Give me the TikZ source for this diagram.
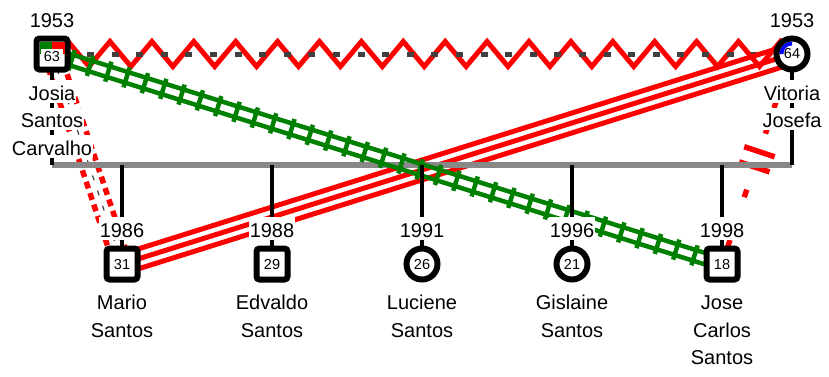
\documentclass[tikz,border=0pt]{standalone}
\usepackage{fontspec}
\setmainfont{Liberation Sans}
\usetikzlibrary{calc,decorations.markings,decorations.pathmorphing}
\pgfdeclarelayer{bg}
\pgfsetlayers{bg,main}
\definecolor{gred}{RGB}{255,0,0}
\definecolor{ggreen}{RGB}{0,128,0}
\definecolor{gblue}{RGB}{0,0,255}
\definecolor{sibgray}{RGB}{136,136,136}
\definecolor{mgray}{RGB}{64,64,64}
\newcommand\lblfnt{\fontsize{20}{24}\selectfont}
\newcommand\agefnt{\fontsize{14.5}{16}\selectfont}
\begin{document}
\begin{tikzpicture}[x=1pt,y=-1pt,
  male/.style={draw=black,line width=6pt,fill=white,rounded corners=3pt,minimum size=31pt,inner sep=0pt,font=\agefnt},
  female/.style={circle,draw=black,line width=6pt,fill=white,minimum size=31pt,inner sep=0pt,font=\agefnt},
  lbl/.style={fill=white,inner sep=1pt,text height=19pt,text depth=1.5pt,anchor=base,font=\lblfnt},
  agebox/.style={fill=white,inner sep=0pt,font=\agefnt},
  kin/.style={black,line width=4.5pt},
  sib/.style={sibgray,line width=6pt},
  rel3/.style={gred,line width=5pt},
  dd/.style={gred,line width=5.5pt,dash pattern=on 7pt off 5pt},
  rd/.style={gred,line width=5.5pt},
  rail/.style={ggreen,line width=4.5pt}
]
\useasboundingbox (0,0) rectangle (829,376);

% parents
\node[male] (P1) at (52,54) {};
\fill[ggreen] (39.5,41.5) rectangle (52,54);
\fill[gred] (52,41.5) rectangle (64.5,54);
\node[agebox,minimum width=22pt,minimum height=17pt] (A1) at (52,57) {63};

\node[female] (P2) at (792,54) {};
\fill[gblue] (P2.center) -- ++(-12.5,0) arc[start angle=180,end angle=270,radius=12.5] -- cycle;
\fill[white] (P2.center) circle[radius=8.5];
\node[font=\agefnt,inner sep=0pt] (A2) at (P2.center) {64};

% children
\node[male] (C1) at (122,264) {31};
\node[male] (C2) at (272,264) {29};
\node[female] (C3) at (422,264) {26};
\node[female] (C4) at (572,264) {21};
\node[male] (C5) at (722,264) {18};

% labels
\node[lbl] (yP1) at (52,27.5) {1953};
\node[lbl] (yP2) at (792,27.5) {1953};
\node[lbl] (nP1a) at (52,100) {Josia};
\node[lbl] (nP1b) at (52,127.5) {Santos};
\node[lbl] (nP1c) at (52,155) {Carvalho};
\node[lbl] (nP2a) at (792,100) {Vitoria};
\node[lbl] (nP2b) at (792,127.5) {Josefa};

\node[lbl] (yC1) at (122,237) {1986};
\node[lbl] (yC2) at (272,237) {1988};
\node[lbl] (yC3) at (422,237) {1991};
\node[lbl] (yC4) at (572,237) {1996};
\node[lbl] (yC5) at (722,237) {1998};

\node[lbl] (nC1a) at (122,309.5) {Mario};
\node[lbl] (nC1b) at (122,337) {Santos};
\node[lbl] (nC2a) at (272,309.5) {Edvaldo};
\node[lbl] (nC2b) at (272,337) {Santos};
\node[lbl] (nC3a) at (422,309.5) {Luciene};
\node[lbl] (nC3b) at (422,337) {Santos};
\node[lbl] (nC4a) at (572,309.5) {Gislaine};
\node[lbl] (nC4b) at (572,337) {Santos};
\node[lbl] (nC5a) at (722,309.5) {Jose};
\node[lbl] (nC5b) at (722,337) {Carlos};
\node[lbl] (nC5c) at (722,364.5) {Santos};

\coordinate (sL) at (52,165);
\coordinate (sR) at (792,165);

\begin{pgfonlayer}{bg}
% conflict zigzag between parents
\draw[gred,line width=5pt,decorate,decoration={zigzag,segment length=41.9pt,amplitude=12.5pt}]
  ($(P1.center)+(5.6,0)$) -- (P2.center);
% marriage line
\draw[mgray,line width=5pt,dash pattern=on 7pt off 17.6pt,dash phase=14.2pt] (P1.center) -- (P2.center);
% triple red Mario - Vitoria
\draw[rel3] (C1.center) -- (P2.center);
\draw[rel3] ($(C1.center)!9.5pt!90:(P2.center)$) -- ($(P2.center)!9.5pt!-90:(C1.center)$);
\draw[rel3] ($(C1.center)!9.5pt!-90:(P2.center)$) -- ($(P2.center)!9.5pt!90:(C1.center)$);
% double dotted Josia - Mario
\draw[dd] ($(P1.center)!8pt!90:(C1.center)$) -- ($(C1.center)!8pt!-90:(P1.center)$);
\draw[dd] ($(P1.center)!8pt!-90:(C1.center)$) -- ($(C1.center)!8pt!90:(P1.center)$);
\draw[mgray,line width=1.2pt,dash pattern=on 5pt off 11pt] (P1.center) -- (C1.center);
% cutoff Vitoria - Jose
\path[decorate,decoration={markings,
  mark=at position 53pt with {\draw[rd] (-4pt,0) -- (4pt,0);},
  mark=at position 80pt with {\draw[rd] (-4pt,0) -- (4pt,0);},
  mark=at position 103pt with {\draw[rd] (0,-16pt) -- (0,16pt);},
  mark=at position 119pt with {\draw[rd] (0,-16pt) -- (0,16pt);},
  mark=at position 147pt with {\draw[rd] (-4pt,0) -- (4pt,0);},
  mark=at position 200pt with {\draw[rd] (-4pt,0) -- (4pt,0);}}]
  (P2.center) -- (C5.center);
% sibling line
\draw[sib] (sL) -- (sR);
% green railroad Josia - Jose
\draw[rail] ($(P1.center)!5.5pt!90:(C5.center)$) -- ($(C5.center)!5.5pt!-90:(P1.center)$);
\draw[rail] ($(P1.center)!5.5pt!-90:(C5.center)$) -- ($(C5.center)!5.5pt!90:(P1.center)$);
\path[decorate,decoration={markings,
  mark=between positions 20.6pt and 690pt step 19.2pt with {\draw[ggreen,line width=4.5pt] (0,-10.5pt) -- (0,10.5pt);}}]
  (P1.center) -- (C5.center);
% kinship lines
\draw[kin] (P1.center) -- (sL);
\draw[kin] (P2.center) -- (sR);
\foreach \c in {C1,C2,C3,C4,C5} \draw[kin] (\c.center |- sL) -- (\c.center);
\end{pgfonlayer}
\end{tikzpicture}
\end{document}
